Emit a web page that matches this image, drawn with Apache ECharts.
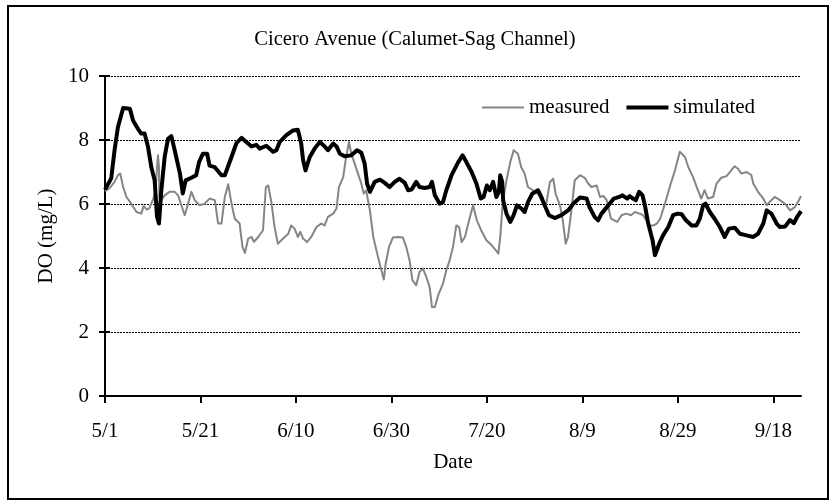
<!DOCTYPE html>
<html>
<head>
<meta charset="utf-8">
<script src="https://cdn.jsdelivr.net/npm/echarts@6/dist/echarts.min.js"></script>
<style>
  html, body { margin: 0; padding: 0; background: #fff; }
  #chart { width: 830px; height: 501px; }
</style>
</head>
<body>
<div id="chart"></div>
<script>
// days counted from 5/1
var tickLabels = ['5/1', '5/21', '6/10', '6/30', '7/20', '8/9', '8/29', '9/18'];
var tickDays = [0, 20, 40, 60, 80, 100, 120, 140];

var measuredDays = [0, 1.0, 2.0, 2.7, 3.2, 3.8, 4.5, 5.5, 6.6, 7.6, 8.1, 8.7, 9.2, 9.7, 10.2, 10.6, 10.9, 11.1, 11.3, 11.4,
    11.8, 12.5, 13.5, 14.6, 15.3, 16.0, 16.7, 17.4, 18.1, 18.8, 19.8, 20.9, 21.9, 23.0, 23.7, 24.4, 25.1, 25.8, 26.5, 27.2,
    28.2, 28.8, 29.3, 30.0, 30.7, 31.2, 32.1, 33.1, 33.7, 34.2, 34.9, 35.5, 36.2, 37.3, 38.4, 39.0, 39.7, 40.4, 40.9, 41.5,
    42.3, 43.2, 44.3, 45.3, 46.0, 46.7, 47.8, 48.5, 49.0, 49.9, 50.4, 51.1, 51.6, 52.3, 53.0, 53.7, 54.2, 54.7, 55.5, 56.2,
    57.2, 57.9, 58.4, 58.8, 59.5, 60.3, 61.4, 62.4, 63.1, 63.8, 64.4, 65.2, 65.9, 66.6, 67.3, 68.0, 68.5, 69.1, 69.8, 70.8,
    71.5, 72.2, 72.9, 73.6, 74.2, 74.7, 75.4, 76.1, 77.1, 77.9, 78.8, 79.9, 81.0, 81.9, 82.4, 82.8, 83.3, 84.1, 84.9, 85.6,
    86.5, 87.2, 87.9, 88.6, 89.6, 90.7, 91.4, 92.4, 93.2, 93.9, 94.4, 95.3, 95.9, 96.5, 97.0, 97.7, 98.4, 99.5, 100.5, 101.2,
    101.9, 103.0, 103.7, 104.4, 105.1, 106.0, 107.3, 108.2, 109.2, 110.2, 111.0, 112.0, 112.7, 113.4, 114.1, 114.9, 115.6, 116.3, 117.3, 118.3,
    119.4, 120.4, 120.8, 121.5, 122.2, 123.2, 124.2, 124.9, 125.6, 126.3, 127.4, 128.1, 129.1, 130.2, 131.2, 131.9, 132.6, 133.3, 134.4, 135.4,
    135.8, 136.8, 137.9, 138.6, 139.2, 140.3, 141.4, 142.5, 143.5, 144.5, 145.3, 145.8];
var measuredDO = [6.4, 6.5, 6.69, 6.9, 6.95, 6.53, 6.22, 6.01, 5.75, 5.7, 5.94, 5.83, 5.85, 6.01, 6.2, 6.43, 7.15, 7.52, 7.15, 6.22,
    6.12, 6.27, 6.38, 6.38, 6.27, 5.96, 5.65, 6.01, 6.38, 6.12, 5.96, 6.01, 6.17, 6.12, 5.39, 5.39, 6.22, 6.62, 6.01, 5.54,
    5.39, 4.66, 4.47, 4.92, 4.97, 4.82, 4.97, 5.18, 6.53, 6.58, 6.01, 5.3, 4.76, 4.92, 5.07, 5.33, 5.23, 4.97, 5.13, 4.92,
    4.81, 4.97, 5.28, 5.39, 5.33, 5.6, 5.7, 5.86, 6.53, 6.84, 7.36, 7.94, 7.57, 7.26, 6.95, 6.64, 6.32, 6.43, 5.8, 4.97,
    4.34, 3.93, 3.64, 4.14, 4.66, 4.95, 4.97, 4.95, 4.66, 4.24, 3.62, 3.46, 3.88, 3.98, 3.72, 3.41, 2.78, 2.78, 3.15, 3.51,
    3.93, 4.24, 4.66, 5.33, 5.28, 4.81, 4.97, 5.39, 5.96, 5.49, 5.18, 4.87, 4.71, 4.55, 4.45, 4.97, 6.01, 6.74, 7.31, 7.68,
    7.57, 7.15, 6.95, 6.53, 6.43, 6.32, 6.12, 5.96, 6.69, 6.79, 6.32, 5.96, 5.49, 4.76, 4.97, 5.8, 6.74, 6.9, 6.82, 6.64,
    6.53, 6.58, 6.22, 6.25, 6.12, 5.54, 5.44, 5.65, 5.7, 5.65, 5.75, 5.7, 5.65, 5.49, 5.33, 5.33, 5.39, 5.54, 6.01, 6.53,
    7.05, 7.63, 7.68, 7.47, 7.15, 6.84, 6.43, 6.17, 6.43, 6.17, 6.22, 6.64, 6.82, 6.87, 7.05, 7.18, 7.1, 6.95, 7.0, 6.9,
    6.64, 6.38, 6.17, 5.96, 6.06, 6.22, 6.12, 6.0, 5.8, 5.9, 6.1, 6.25];

var simulatedDays = [0, 1.3, 2.0, 2.7, 3.8, 5.2, 5.9, 6.9, 7.6, 8.3, 9.0, 9.7, 10.4, 10.9, 11.3, 11.8, 12.5, 13.2, 13.9, 14.6,
    15.7, 16.3, 16.9, 18.1, 19.1, 19.7, 20.5, 21.4, 21.9, 23.0, 24.4, 25.1, 26.5, 27.5, 28.6, 29.6, 30.7, 31.7, 32.4, 33.8,
    34.5, 35.2, 35.9, 36.6, 38.0, 39.4, 40.4, 41.1, 41.5, 42.0, 42.9, 43.9, 45.0, 46.0, 46.7, 47.8, 48.5, 49.2, 50.2, 51.6,
    52.8, 53.7, 54.4, 54.9, 55.5, 56.5, 57.6, 58.6, 59.6, 60.7, 61.7, 62.8, 63.5, 64.2, 65.2, 65.9, 67.0, 68.0, 68.5, 69.1,
    70.1, 70.8, 71.5, 72.6, 74.0, 74.9, 75.7, 76.8, 77.8, 78.7, 79.3, 80.0, 80.6, 81.3, 82.0, 82.5, 82.8, 83.2, 83.4, 84.1,
    84.9, 85.6, 86.3, 87.2, 87.9, 88.6, 89.5, 90.7, 91.4, 92.1, 93.0, 94.2, 95.6, 97.0, 98.1, 99.5, 100.9, 101.5, 102.6, 103.3,
    104.0, 105.4, 106.6, 107.7, 108.4, 109.4, 109.9, 110.6, 111.2, 111.9, 112.6, 113.1, 113.8, 114.7, 115.2, 115.6, 116.1, 116.9, 118.0, 119.0,
    120.0, 120.8, 121.7, 122.9, 123.9, 124.6, 125.3, 125.8, 126.7, 127.7, 128.8, 129.8, 130.7, 131.9, 133.0, 134.4, 135.8, 136.8, 137.9, 138.6,
    139.6, 140.7, 141.4, 142.5, 143.5, 144.3, 145.0, 145.8];
var simulatedDO = [6.45, 6.8, 7.68, 8.4, 9.0, 8.98, 8.6, 8.35, 8.2, 8.2, 7.8, 7.15, 6.74, 5.6, 5.39, 6.43, 7.47, 8.04, 8.12, 7.68,
    6.95, 6.33, 6.74, 6.82, 6.9, 7.31, 7.57, 7.57, 7.2, 7.15, 6.9, 6.9, 7.47, 7.89, 8.07, 7.94, 7.8, 7.85, 7.73, 7.82,
    7.73, 7.63, 7.68, 7.94, 8.15, 8.3, 8.32, 7.89, 7.37, 7.05, 7.47, 7.73, 7.94, 7.8, 7.68, 7.89, 7.8, 7.57, 7.49, 7.52,
    7.68, 7.6, 7.26, 6.64, 6.38, 6.69, 6.76, 6.66, 6.53, 6.69, 6.79, 6.66, 6.43, 6.45, 6.69, 6.53, 6.5, 6.53, 6.69, 6.27,
    6.01, 6.06, 6.43, 6.9, 7.31, 7.52, 7.31, 7.0, 6.64, 6.17, 6.22, 6.58, 6.43, 6.69, 6.22, 6.38, 6.9, 6.69, 6.12, 5.7,
    5.44, 5.65, 5.96, 5.86, 5.75, 6.06, 6.32, 6.43, 6.22, 5.96, 5.65, 5.56, 5.65, 5.8, 6.01, 6.2, 6.17, 5.9, 5.59, 5.49,
    5.7, 5.95, 6.17, 6.22, 6.27, 6.17, 6.25, 6.17, 6.12, 6.38, 6.27, 5.96, 5.39, 4.87, 4.4, 4.34, 4.76, 5.02, 5.28, 5.65,
    5.7, 5.68, 5.49, 5.33, 5.33, 5.54, 5.96, 6.01, 5.75, 5.54, 5.28, 4.97, 5.23, 5.26, 5.07, 5.02, 4.97, 5.07, 5.39, 5.8,
    5.7, 5.39, 5.28, 5.3, 5.5, 5.4, 5.6, 5.78];

function pairs(xs, ys) {
    return xs.map(function (x, i) { return [x, ys[i]]; });
}

var font = 'Liberation Serif';
var chart = echarts.init(document.getElementById('chart'));
var option = {
    animation: false,
    backgroundColor: '#fff',
    textStyle: { fontFamily: font, color: '#000' },
    title: {
        text: 'Cicero Avenue (Calumet-Sag Channel)',
        left: 'center',
        top: 24,
        textStyle: { fontFamily: font, fontSize: 20.5, fontWeight: 'normal', color: '#000' }
    },
    legend: {
        data: [
            { name: 'measured', icon: 'path://M0,0L42,0L42,2L0,2Z' },
            { name: 'simulated', icon: 'path://M0,0L42,0L42,4L0,4Z' }
        ],
        left: 482,
        top: 97,
        padding: 0,
        itemWidth: 42,
        itemHeight: 14,
        itemGap: 17,
        symbolKeepAspect: true,
        itemStyle: { borderWidth: 0 },
        textStyle: { fontFamily: font, fontSize: 21, color: '#000' }
    },
    grid: {
        left: 105,
        right: 29,
        top: 76,
        bottom: 105,
        containLabel: false
    },
    xAxis: {
        type: 'value',
        min: 0,
        max: 145.8,
        interval: 20,
        name: 'Date',
        nameLocation: 'middle',
        nameGap: 56,
        nameTextStyle: { fontFamily: font, fontSize: 21, color: '#000' },
        axisLine: { lineStyle: { color: '#000', width: 2 } },
        axisTick: { inside: false, length: 7, lineStyle: { color: '#000', width: 2 }, customValues: tickDays },
        axisLabel: {
            margin: 25,
            fontFamily: font,
            fontSize: 21,
            color: '#000',
            customValues: tickDays,
            formatter: function (v) { return tickLabels[Math.round(v / 20)]; }
        },
        splitLine: { show: false }
    },
    yAxis: [{
        type: 'value',
        min: 0,
        max: 10,
        interval: 2,
        name: 'DO (mg/L)',
        nameLocation: 'middle',
        nameGap: 47,
        nameRotate: 90,
        nameTextStyle: { fontFamily: font, fontSize: 21, color: '#000' },
        axisLine: { show: true, lineStyle: { color: '#000', width: 2 } },
        axisTick: { show: true, inside: false, length: 6, lineStyle: { color: '#000', width: 2 } },
        axisLabel: { margin: 16, fontFamily: font, fontSize: 21, color: '#000' },
        splitLine: { show: true, lineStyle: { color: '#000', width: 1, type: [2, 1] } }
    }, {
        type: 'value',
        min: 0,
        max: 10,
        interval: 2,
        position: 'left',
        axisLine: { show: false },
        axisTick: { show: true, inside: true, length: 5, lineStyle: { color: '#000', width: 2 } },
        axisLabel: { show: false },
        splitLine: { show: false }
    }],
    series: [{
        name: 'measured',
        type: 'line',
        symbol: 'none',
        data: pairs(measuredDays, measuredDO),
        lineStyle: { color: '#858585', width: 2, join: 'round' },
        itemStyle: { color: '#858585' }
    }, {
        name: 'simulated',
        type: 'line',
        symbol: 'none',
        data: pairs(simulatedDays, simulatedDO),
        lineStyle: { color: '#000', width: 4, join: 'round' },
        itemStyle: { color: '#000' }
    }],
    graphic: [{
        type: 'rect',
        silent: true,
        shape: { x: 8, y: 6, width: 820, height: 493 },
        style: { fill: null, stroke: '#000', lineWidth: 2 }
    }]
};
chart.setOption(option);
</script>
</body>
</html>
